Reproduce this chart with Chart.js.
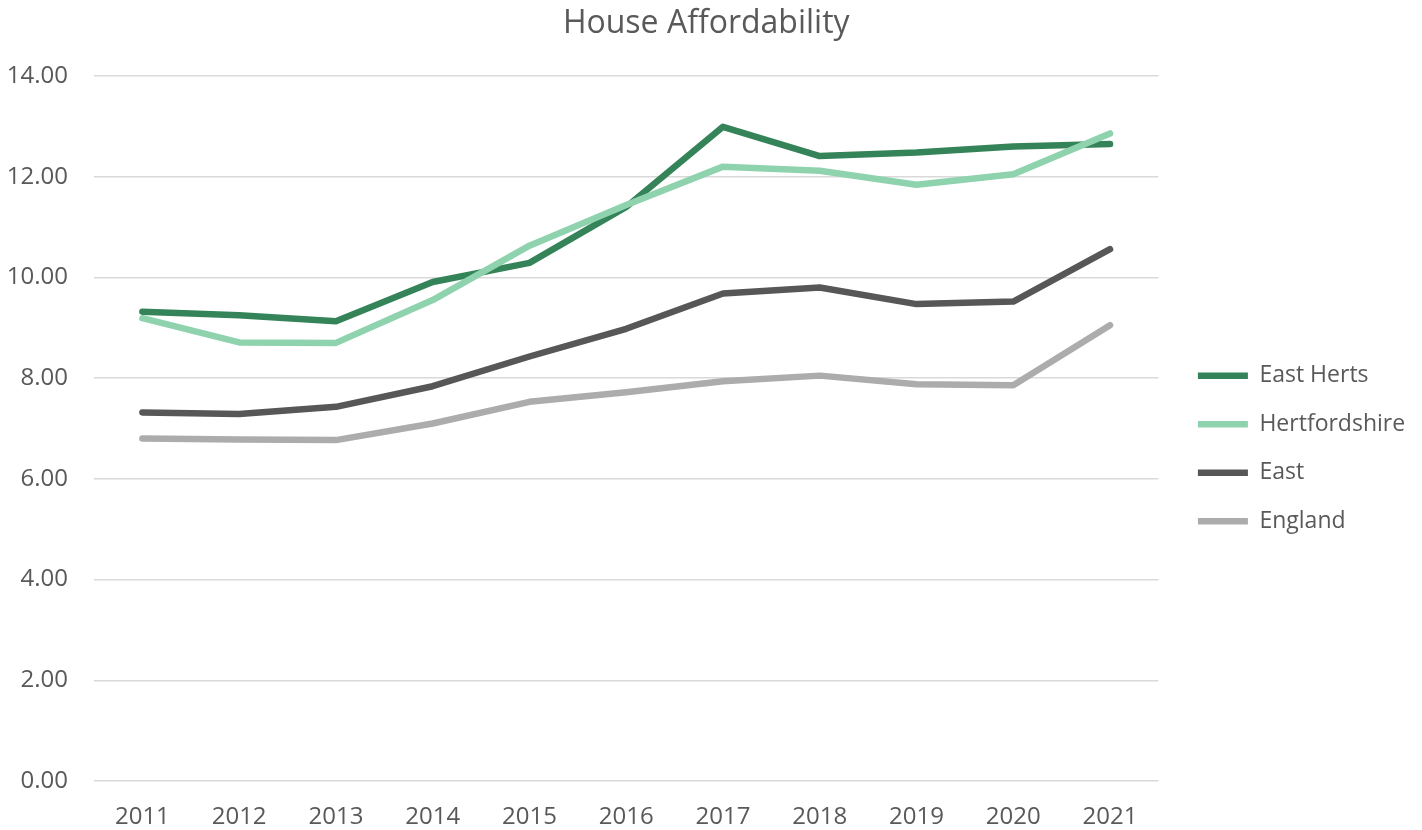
<!DOCTYPE html>
<html>
<head>
<meta charset="utf-8">
<script src="https://cdn.jsdelivr.net/npm/chart.js@4/dist/chart.umd.min.js"></script>
<style>
  html, body { margin: 0; padding: 0; background: #ffffff; }
  #wrap { width: 1422px; height: 830px; position: relative; }
</style>
</head>
<body>
<div id="wrap"><canvas id="c"></canvas></div>
<script>
const years = ["2011", "2012", "2013", "2014", "2015", "2016", "2017", "2018", "2019", "2020", "2021"];
const eastHerts = [9.32, 9.25, 9.13, 9.91, 10.29, 11.40, 12.99, 12.41, 12.48, 12.60, 12.65];
const hertfordshire = [9.19, 8.71, 8.70, 9.55, 10.63, 11.44, 12.20, 12.12, 11.84, 12.05, 12.86];
const east = [7.32, 7.29, 7.43, 7.84, 8.43, 8.98, 9.68, 9.80, 9.47, 9.52, 10.56];
const england = [6.80, 6.78, 6.77, 7.10, 7.53, 7.72, 7.94, 8.05, 7.88, 7.86, 9.05];
const seriesNames = ["East Herts", "Hertfordshire", "East", "England"];
const seriesColors = ["#358459", "#8fd3ae", "#575757", "#acacac"];

const FONT = "'Open Sans', 'Liberation Sans', sans-serif";
const TEXT = "#595959";

function ds(label, data, color, order) {
  return {
    label: label,
    data: data,
    borderColor: color,
    backgroundColor: color,
    borderWidth: 6.5,
    borderCapStyle: "round",
    borderJoinStyle: "round",
    pointRadius: 0,
    pointHoverRadius: 0,
    tension: 0,
    fill: false,
    order: order
  };
}

new Chart(document.getElementById("c"), {
  type: "line",
  data: {
    labels: years,
    datasets: [
      ds(seriesNames[0], eastHerts, seriesColors[0], 4),
      ds(seriesNames[1], hertfordshire, seriesColors[1], 3),
      ds(seriesNames[2], east, seriesColors[2], 2),
      ds(seriesNames[3], england, seriesColors[3], 1)
    ]
  },
  options: {
    responsive: true,
    maintainAspectRatio: false,
    animation: false,
    layout: { padding: { left: 7, right: 16.5, top: 0, bottom: 0 } },
    plugins: {
      title: {
        display: true,
        text: "House Affordability",
        color: TEXT,
        font: { family: FONT, size: 32, weight: "normal" },
        padding: { top: 5, bottom: 32.6 }
      },
      legend: {
        display: true,
        position: "right",
        align: "center",
        title: {
          display: true,
          text: "",
          font: { family: FONT, size: 10 },
          padding: { top: 55, bottom: 0 }
        },
        labels: {
          usePointStyle: true,
          pointStyle: "line",
          pointStyleWidth: 50,
          color: TEXT,
          font: { family: FONT, size: 23 },
          padding: 25.5,
          sort: (a, b) => a.datasetIndex - b.datasetIndex
        }
      },
      tooltip: { enabled: false }
    },
    scales: {
      x: {
        type: "category",
        offset: true,
        grid: { display: false, drawTicks: false },
        border: { display: false },
        ticks: { color: TEXT, font: { family: FONT, size: 24 }, padding: 22, maxRotation: 0 },
        afterFit: (s) => { s.height = 49; }
      },
      y: {
        min: 0,
        max: 14,
        grid: { color: "#d9d9d9", lineWidth: 1.5, drawTicks: false },
        border: { display: false },
        ticks: {
          stepSize: 2,
          color: TEXT,
          font: { family: FONT, size: 24 },
          padding: 26,
          callback: (v) => Number(v).toFixed(2)
        },
        afterFit: (s) => { s.width = 87; }
      },
      spacer: {
        type: "linear",
        position: "right",
        display: true,
        grid: { display: false, drawTicks: false },
        border: { display: false },
        ticks: { display: false },
        afterFit: (s) => { s.width = 14; }
      }
    }
  }
});
</script>
</body>
</html>
